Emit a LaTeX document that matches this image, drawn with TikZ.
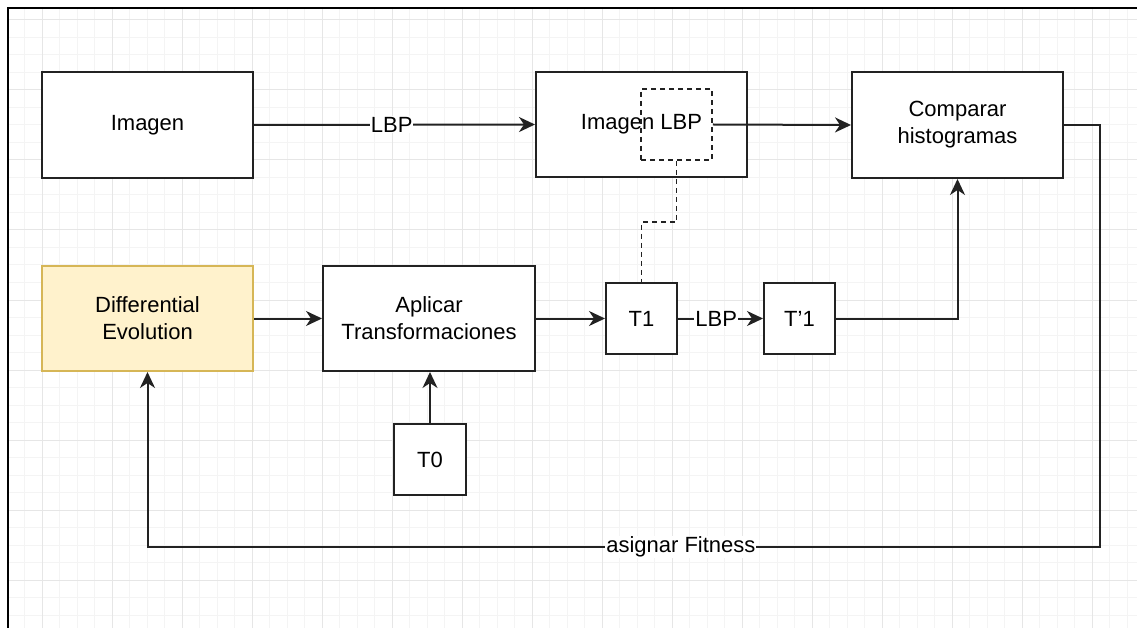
\documentclass[tikz,border=0pt]{standalone}
\usepackage{fontspec}
\setmainfont{Liberation Sans}
\usetikzlibrary{arrows.meta}
\definecolor{minorgrid}{HTML}{F4F4F4}
\definecolor{majorgrid}{HTML}{E6E6E6}
\definecolor{defill}{HTML}{FFF2CC}
\definecolor{dedraw}{HTML}{D6B656}
\definecolor{ink}{HTML}{222222}
\tikzset{
  box/.style={draw=ink, line width=2pt, fill=white, align=center, inner sep=0pt,
    text=black, font=\fontsize{22}{27}\selectfont},
  dbox/.style={draw=ink, line width=1.8pt, dash pattern=on 5pt off 4pt, inner sep=0pt},
  conn/.style={draw=ink, line width=2pt, -{Stealth[length=16pt,width=15pt,inset=5pt]}},
  dconn/.style={draw=ink, line width=1.8pt, dash pattern=on 5pt off 4pt},
  lbl/.style={fill=white, inner sep=1pt, text=black, font=\fontsize{22}{27}\selectfont}
}
\begin{document}
\begin{tikzpicture}[x=1pt,y=-1pt]
\useasboundingbox (0,0) rectangle (1137,628);
\fill[white] (0,0) rectangle (1137,628);
% grid
\begin{scope}
\clip (8,8) rectangle (1137,628);
\foreach \i in {0,...,65} {
  \pgfmathsetmacro\gx{7+17.5*\i}
  \draw[minorgrid, line width=1pt] (\gx,8) -- (\gx,628);
}
\foreach \i in {0,...,36} {
  \pgfmathsetmacro\gy{2.5+17.5*\i}
  \draw[minorgrid, line width=1pt] (8,\gy) -- (1137,\gy);
}
\foreach \i in {0,...,16} {
  \pgfmathsetmacro\gx{42+70*\i}
  \draw[majorgrid, line width=1pt] (\gx,8) -- (\gx,628);
}
\foreach \i in {0,...,9} {
  \pgfmathsetmacro\gy{20+70*\i}
  \draw[majorgrid, line width=1pt] (8,\gy) -- (1137,\gy);
}
\end{scope}
% frame
\draw[black, line width=2pt] (8,628) -- (8,8) -- (1137,8);

% nodes
\node[box, minimum width=211pt, minimum height=106pt] (img) at (147.5,125) {Imagen};
\node[box, minimum width=211pt, minimum height=105pt] (imglbp) at (641.5,124.5) {Imagen LBP};
\node[dbox, minimum width=71pt, minimum height=71pt] (dsel) at (676.5,124.5) {};
\node[box, minimum width=211pt, minimum height=106pt] (cmp) at (957.5,125) {Comparar\\histogramas};
\node[box, fill=defill, draw=dedraw, minimum width=211pt, minimum height=105pt] (de) at (147.5,318.5) {Differential\\Evolution};
\node[box, minimum width=212pt, minimum height=105pt] (apl) at (429,318.5) {Aplicar\\Transformaciones};
\node[box, minimum width=71pt, minimum height=71pt] (t1) at (641.5,318.5) {T1};
\node[box, minimum width=71pt, minimum height=71pt] (tp1) at (799.5,318.5) {T{\char"0027}1};
\node[box, minimum width=72pt, minimum height=71pt] (t0) at (430,459.5) {T0};

% connectors
\draw[conn] (img.east) -- node[lbl, pos=0.49] {LBP} (imglbp.west);
\draw[conn] (dsel.east) -- (cmp.west);
\coordinate (dk) at (676.5,222);
\draw[dconn] (dsel.south) -- (dk) -| (t1.north);
\coordinate (r1) at (1100,125);
\coordinate (r2) at (1100,547);
\coordinate (l2) at (147.5,547);
\draw[conn] (cmp.east) -- (r1) -- (r2) -- node[lbl, pos=0.44] {asignar Fitness} (l2) -- (de.south);
\draw[conn] (de.east) -- (apl.west);
\draw[conn] (apl.east) -- (t1.west);
\draw[conn] (t1.east) -- node[lbl, pos=0.45] {LBP} (tp1.west);
\draw[conn] (tp1.east) -| (cmp.south);
\draw[conn] (t0.north) -- (t0.north |- apl.south);
\end{tikzpicture}
\end{document}
